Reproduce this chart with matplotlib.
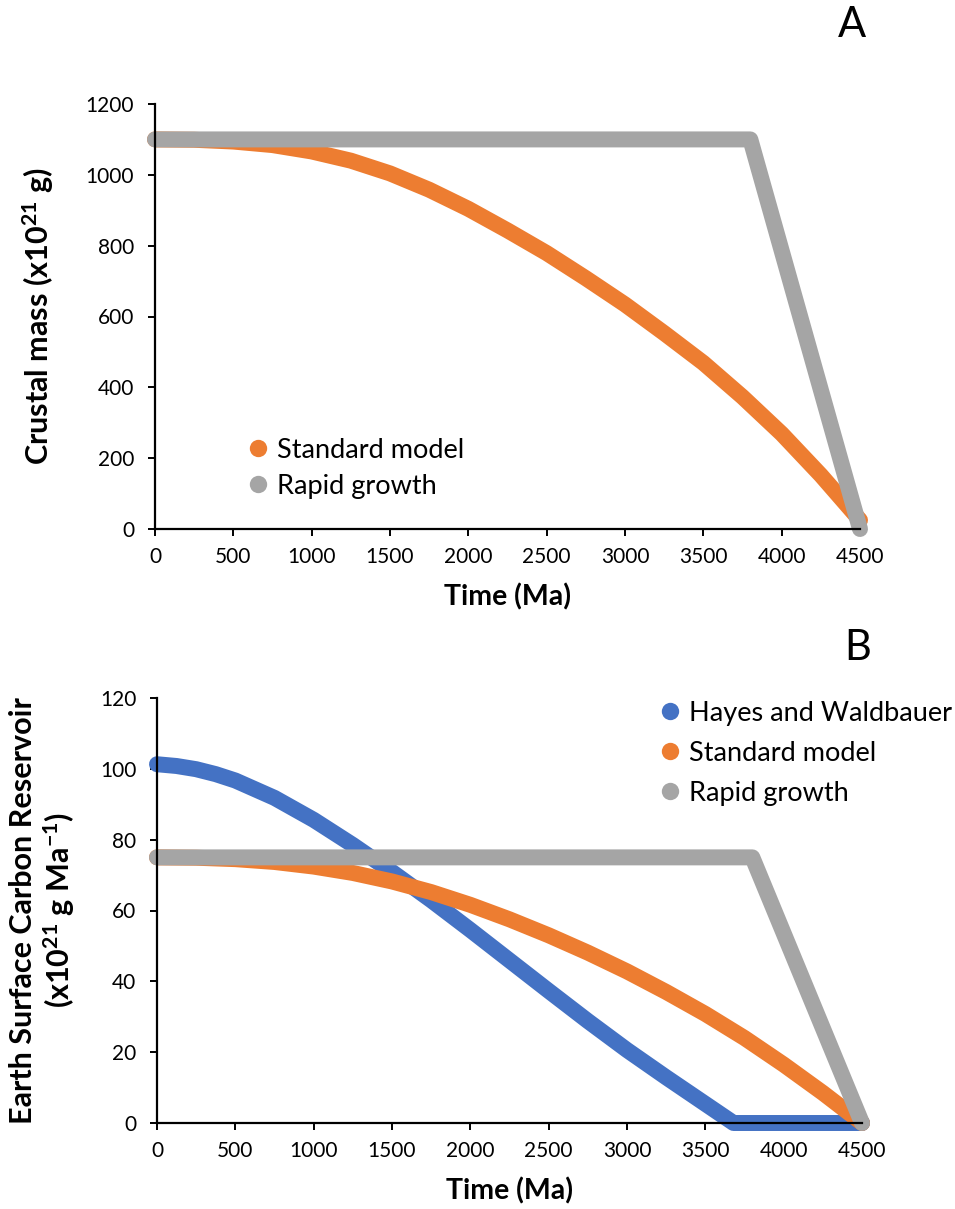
import matplotlib
matplotlib.use("Agg")
import matplotlib.pyplot as plt
from matplotlib.lines import Line2D

plt.rcParams["font.family"] = ["Lato", "DejaVu Sans"]
plt.rcParams["mathtext.fontset"] = "custom"
plt.rcParams["mathtext.rm"] = "Lato"
plt.rcParams["mathtext.bf"] = "Lato:bold"
plt.rcParams["mathtext.default"] = "regular"

BLUE = "#4472C4"
ORANGE = "#ED7D31"
GREY = "#A5A5A5"

# time axis (Ma) shared by the smooth model curves
time_ma = [0, 250, 500, 750, 1000, 1250, 1500, 1750, 2000, 2250,
           2500, 2750, 3000, 3250, 3500, 3750, 4000, 4250, 4500]

# panel A: crustal mass (x10^21 g)
crust_standard = [1100, 1099, 1094, 1084, 1066, 1040, 1004, 958, 904, 843,
                  779, 708, 634, 553, 469, 373, 269, 152, 25]
rapid_time = [0, 3800, 4500]
crust_rapid = [1100, 1100, 0]

# panel B: earth surface carbon reservoir (x10^21 g Ma^-1)
hayes_time = [0, 125, 250, 375, 500, 750, 1000, 1250, 1500, 1750, 2000, 2250,
              2500, 2750, 3000, 3250, 3500, 3680, 4500]
carbon_hayes = [101.3, 100.8, 99.9, 98.5, 96.7, 91.8, 85.6, 78.5, 70.9, 62.9,
                54.5, 45.9, 37.3, 28.8, 20.6, 12.9, 5.4, 0.0, 0.0]
carbon_standard = [75.0, 74.9, 74.5, 73.7, 72.4, 70.6, 68.2, 65.2, 61.6, 57.5,
                   53.0, 48.1, 42.8, 37.0, 30.8, 24.0, 16.5, 8.5, 0.0]
carbon_rapid = [75, 75, 0]

W, H = 955, 1209
fig = plt.figure(figsize=(W / 100, H / 100), dpi=100)


def frame(left, top, right, bottom):
    return fig.add_axes([left / W, 1 - bottom / H, (right - left) / W, (bottom - top) / H])


def style(ax, ymax, ystep):
    ax.set_xlim(0, 4500)
    ax.set_ylim(0, ymax)
    ax.set_xticks(range(0, 4501, 500))
    ax.set_yticks(range(0, ymax + 1, ystep))
    for side in ("top", "right"):
        ax.spines[side].set_visible(False)
    for side in ("left", "bottom"):
        ax.spines[side].set_linewidth(1.6)
        ax.spines[side].set_color("black")
    ax.tick_params(axis="both", direction="out", length=5, width=1.4,
                   labelsize=15, colors="black")
    ax.tick_params(axis="y", pad=10)
    ax.tick_params(axis="x", pad=8)
    ax.set_xlabel("Time (Ma)", fontsize=20.5, fontweight="bold", labelpad=12)


def curve(ax, x, y, color):
    ax.plot(x, y, color=color, lw=11.5, solid_capstyle="round",
            solid_joinstyle="round", clip_on=False)


def legend(ax, items, x, y, spacing):
    handles = [Line2D([], [], ls="none", marker="o", ms=12.5, color=c,
                      markeredgewidth=0) for c, _ in items]
    ax.legend(handles, [t for _, t in items], loc="center left",
              bbox_to_anchor=(x, y), frameon=False, fontsize=19.5,
              handlelength=0.8, handletextpad=0.3, labelspacing=spacing,
              borderpad=0, borderaxespad=0)


# panel A
axA = frame(155, 104, 860, 529)
style(axA, 1200, 200)
curve(axA, time_ma, crust_standard, ORANGE)
curve(axA, rapid_time, crust_rapid, GREY)
axA.set_ylabel("Crustal mass (x10$^{21}$ g)", fontsize=22, fontweight="bold",
               va="center")
axA.yaxis.set_label_coords(-0.166, 0.5)
legend(axA, [(ORANGE, "Standard model"), (GREY, "Rapid growth")], 0.131, 0.143, 0.42)
fig.text(852 / W, 1 - 25 / H, "A", fontsize=30, ha="center", va="center")

# panel B
axB = frame(157, 698, 862, 1123)
style(axB, 120, 20)
curve(axB, hayes_time, carbon_hayes, BLUE)
curve(axB, time_ma, carbon_standard, ORANGE)
curve(axB, rapid_time, carbon_rapid, GREY)
axB.set_ylabel("Earth Surface Carbon Reservoir\n(x10$^{21}$ g Ma$^{-1}$)",
               fontsize=22, fontweight="bold", va="center", linespacing=1.15)
axB.yaxis.set_label_coords(-0.162, 0.5)
legend(axB, [(BLUE, "Hayes and Waldbauer"), (ORANGE, "Standard model"),
             (GREY, "Rapid growth")], 0.712, 0.870, 0.55)
fig.text(858 / W, 1 - 648 / H, "B", fontsize=30, ha="center", va="center")

fig.savefig("out.png", dpi=100)
